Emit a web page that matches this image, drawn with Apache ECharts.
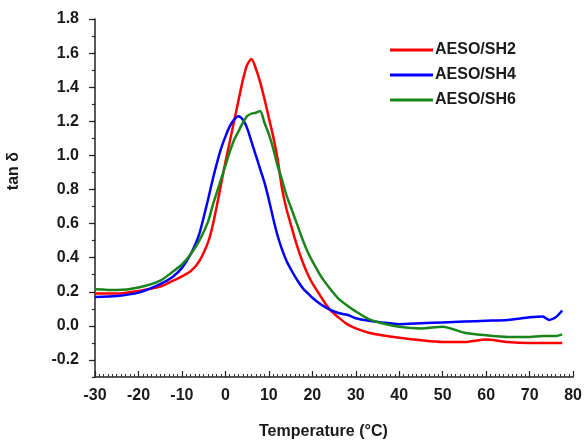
<!DOCTYPE html>
<html>
<head>
<meta charset="utf-8">
<script src="https://cdn.jsdelivr.net/npm/echarts@6/dist/echarts.min.js"></script>
<style>html,body{margin:0;padding:0;background:#fff}#c{width:585px;height:441px}</style>
</head>
<body>
<div id="c"></div>
<script>
var temps = [-30,-25,-20,-15,-12,-10,-8,-6,-4,-3,-2,-1,0,1,2,3,4,5,6,7,8,9,10,11,12,13,14,15,16,17,18,19,20,22,24,26,28,30,33,36,40,45,50,55,60,65,70,73,74.5,76,77.5];
var sh2 = [0.19,0.19,0.205,0.23,0.265,0.29,0.32,0.38,0.49,0.58,0.70,0.83,0.96,1.08,1.20,1.32,1.44,1.53,1.565,1.51,1.43,1.33,1.22,1.11,0.98,0.81,0.69,0.60,0.51,0.43,0.36,0.30,0.25,0.17,0.095,0.05,0.01,-0.015,-0.04,-0.055,-0.07,-0.085,-0.095,-0.095,-0.08,-0.095,-0.10,-0.10,-0.10,-0.10,-0.10];
var sh4 = [0.17,0.175,0.195,0.245,0.29,0.34,0.42,0.54,0.74,0.85,0.95,1.04,1.11,1.17,1.21,1.23,1.21,1.16,1.08,1.00,0.92,0.84,0.74,0.63,0.53,0.45,0.385,0.335,0.29,0.25,0.215,0.19,0.165,0.125,0.095,0.075,0.065,0.045,0.03,0.02,0.01,0.015,0.02,0.025,0.03,0.035,0.05,0.055,0.035,0.05,0.09];
var sh6 = [0.215,0.21,0.225,0.265,0.32,0.36,0.42,0.50,0.61,0.70,0.78,0.86,0.94,1.02,1.09,1.14,1.19,1.23,1.245,1.25,1.26,1.19,1.125,1.04,0.94,0.86,0.77,0.70,0.63,0.56,0.49,0.43,0.38,0.29,0.22,0.16,0.12,0.085,0.04,0.015,-0.005,-0.015,-0.005,-0.04,-0.055,-0.065,-0.065,-0.06,-0.06,-0.06,-0.05];
var seriesNames = ['AESO/SH2','AESO/SH4','AESO/SH6'];
var colors = ['#ff0000','#0000ff','#1a851a'];
var yMajor = [-0.2,0,0.2,0.4,0.6,0.8,1.0,1.2,1.4,1.6,1.8];

function pairs(vals){ return temps.map(function(t,i){ return [t, vals[i]]; }); }
var font = 'Liberation Sans, Arial, sans-serif';
var chart = echarts.init(document.getElementById('c'), null, {renderer:'canvas'});
var allVals = [sh2, sh4, sh6];
chart.setOption({
  animation: false,
  color: colors,
  grid: {left: 95, right: 8, top: 19, bottom: 64, containLabel: false},
  legend: {
    orient: 'vertical', left: 390, top: 42, itemGap: 9, padding: 0,
    icon: 'rect', itemWidth: 43, itemHeight: 3,
    textStyle: {fontFamily: font, fontWeight: 'bold', fontSize: 16, color: '#1a1a1a', padding: [0,0,0,-3]},
    data: seriesNames
  },
  xAxis: {
    type: 'value', min: -30, max: 80, interval: 10,
    axisLine: {onZero: false, lineStyle: {color: '#222', width: 1.5}},
    axisTick: {inside: true, length: 6, lineStyle: {color: '#222', width: 1.2}},
    minorTick: {show: true, splitNumber: 10, length: 3, lineStyle: {color: '#333', width: 1}},
    splitLine: {show: false},
    axisLabel: {margin: 11, fontFamily: font, fontWeight: 'bold', fontSize: 16, color: '#1a1a1a'}
  },
  yAxis: [{
    type: 'value', min: -0.3, max: 1.8, interval: 0.1,
    axisLine: {show: true, onZero: false, lineStyle: {color: '#222', width: 1.5}},
    axisTick: {show: true, length: 3, lineStyle: {color: '#222', width: 1.2}},
    splitLine: {show: false},
    axisLabel: {show: false}
  },{
    type: 'value', min: -0.3, max: 1.8, position: 'left',
    axisLine: {show: false, onZero: false},
    axisTick: {show: true, length: 6, customValues: yMajor, lineStyle: {color: '#222', width: 1.2}},
    splitLine: {show: false},
    axisLabel: {show: true, margin: 16, customValues: yMajor, fontFamily: font, fontWeight: 'bold', fontSize: 16, color: '#1a1a1a',
      formatter: function(v){ return v.toFixed(1); }}
  }],
  graphic: [
    {type: 'text', left: 6, top: 152, rotation: Math.PI/2, style: {text: 'tan δ', font: 'bold 16px ' + font, fill: '#1a1a1a'}},
    {type: 'text', left: 259, top: 424, style: {text: 'Temperature (°C)', font: 'bold 16px ' + font, fill: '#1a1a1a'}}
  ],
  series: seriesNames.map(function(n, k){
    return {name: n, type: 'line', yAxisIndex: 0, data: pairs(allVals[k]), showSymbol: false, smooth: 0.25,
      lineStyle: {width: 2.5, color: colors[k]}};
  })
});
</script>
</body>
</html>
